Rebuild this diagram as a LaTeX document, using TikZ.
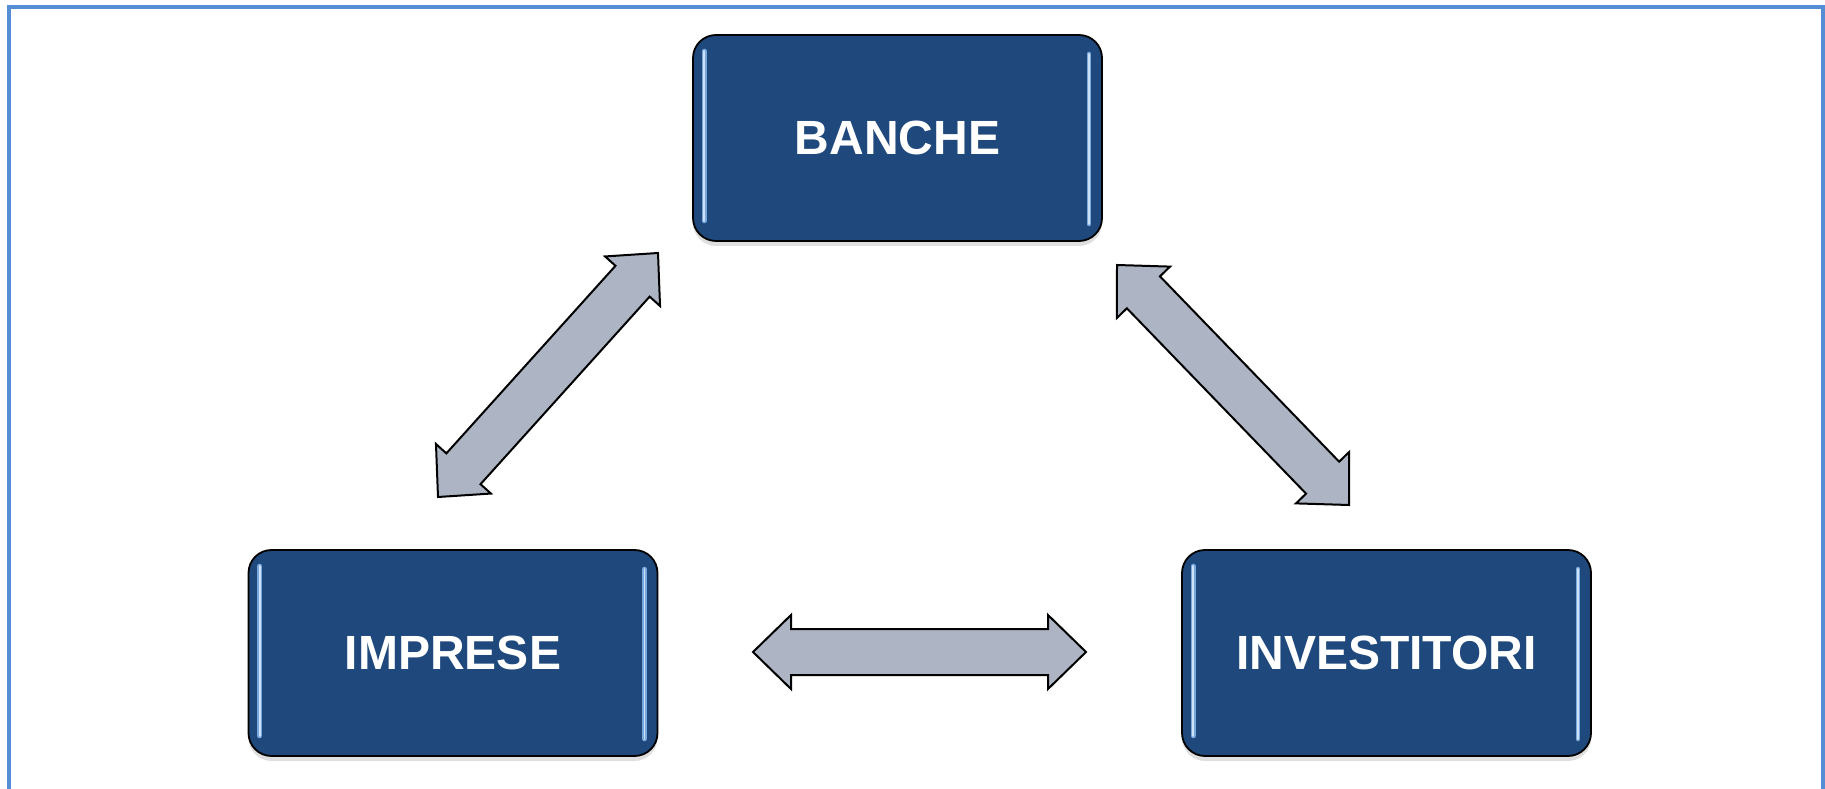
\documentclass[tikz,border=0pt]{standalone}
\usepackage{fontspec}
\setmainfont{Liberation Sans}
\usepackage{tikz}
\usetikzlibrary{calc,shadows}
\definecolor{boxblue}{HTML}{1F497D}
\definecolor{glossblue}{RGB}{120,168,222}
\definecolor{glosslight}{RGB}{205,226,248}
\definecolor{arrowgray}{RGB}{173,180,196}
\definecolor{frameblue}{RGB}{85,142,213}
\tikzstyle{ente} = [rectangle, rounded corners=11.5pt, minimum width=204.5pt, minimum height=103pt, draw=black, line width=0.9pt, fill=boxblue, text=white, font=\fontsize{24}{28}\selectfont\bfseries, drop shadow={shadow xshift=0pt, shadow yshift=-2.5pt, opacity=0.25}]
\tikzstyle{gloss} = [glossblue, line width=2.4pt, line cap=round]
\tikzstyle{glosscore} = [glosslight, line width=0.9pt, line cap=round]
\tikzstyle{fatarrow} = [draw=black, line width=1pt, fill=arrowgray, line join=miter]
\tikzstyle{frame} = [frameblue, line width=2pt]
% double block arrow between two points
\def\fatarrow(#1)(#2){%
  \draw[fatarrow] (#1) -- ($(#1)!19pt!(#2)!18.5pt!90:(#2)$) -- ($(#1)!19pt!(#2)!11.5pt!90:(#2)$)
    -- ($(#2)!19pt!(#1)!11.5pt!-90:(#1)$) -- ($(#2)!19pt!(#1)!18.5pt!-90:(#1)$) -- (#2)
    -- ($(#2)!19pt!(#1)!18.5pt!90:(#1)$) -- ($(#2)!19pt!(#1)!11.5pt!90:(#1)$)
    -- ($(#1)!19pt!(#2)!11.5pt!-90:(#2)$) -- ($(#1)!19pt!(#2)!18.5pt!-90:(#2)$) -- cycle;}
% light edges of a box
\def\gloss(#1){%
  \draw[gloss] ([xshift=6pt,yshift=-8.5pt]#1.north west) -- ([xshift=6pt,yshift=10.5pt]#1.south west);
  \draw[gloss] ([xshift=-7pt,yshift=-10pt]#1.north east) -- ([xshift=-7pt,yshift=9pt]#1.south east);
  \draw[glosscore] ([xshift=6pt,yshift=-8.5pt]#1.north west) -- ([xshift=6pt,yshift=10.5pt]#1.south west);
  \draw[glosscore] ([xshift=-7pt,yshift=-10pt]#1.north east) -- ([xshift=-7pt,yshift=9pt]#1.south east);}

\begin{document}
\begin{tikzpicture}[x=0.5pt,y=0.5pt]
\useasboundingbox (0,0) rectangle (1825,788);
\draw[frame] (9,-5) -- (9,780.5) -- (1823,780.5) -- (1823,-5);
\node[ente] (banche) at (897.5,650) {BANCHE};
\node[ente] (imprese) at (453,135) {IMPRESE};
\node[ente] (investitori) at (1386.5,135) {INVESTITORI};
\gloss(banche)
\gloss(imprese)
\gloss(investitori)
\coordinate (ib1) at (438,291);
\coordinate (ib2) at (658,535);
\coordinate (bi1) at (1117,523);
\coordinate (bi2) at (1349,283);
\coordinate (ii1) at (753,136);
\coordinate (ii2) at (1086,136);
\fatarrow(ib1)(ib2)
\fatarrow(bi1)(bi2)
\fatarrow(ii1)(ii2)
\end{tikzpicture}
\end{document}
